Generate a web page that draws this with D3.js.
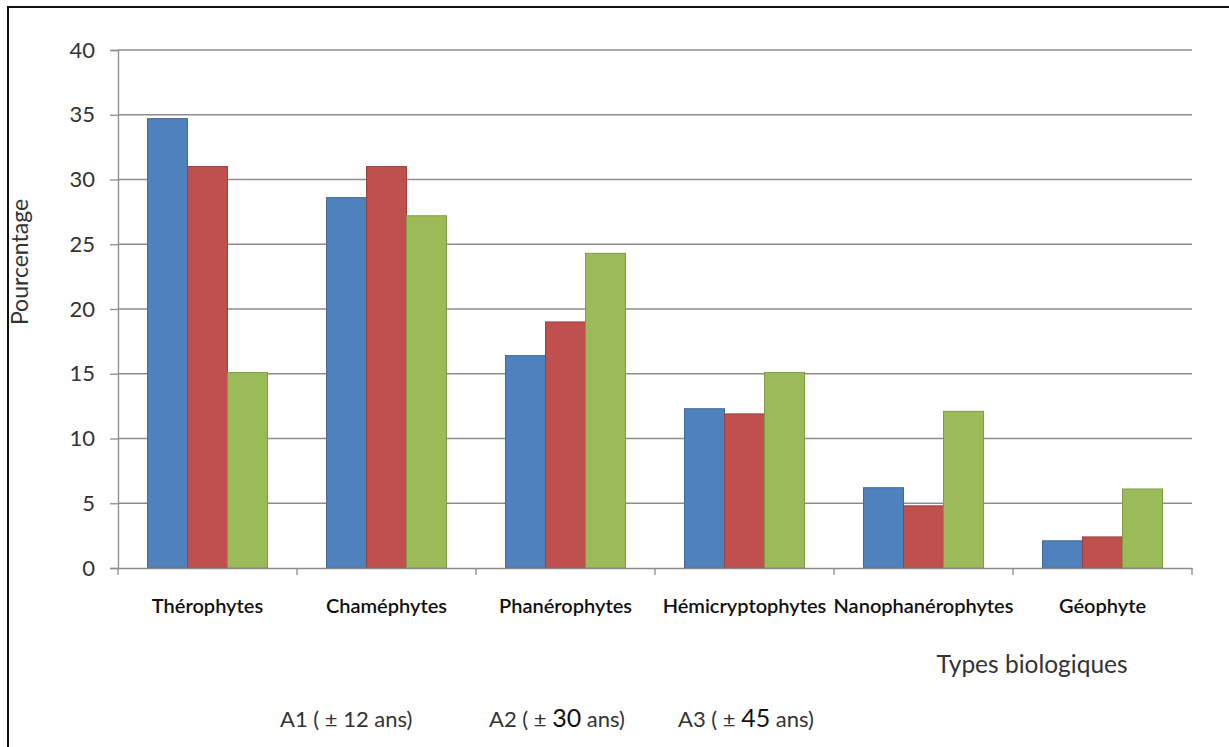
<!DOCTYPE html>
<html>
<head>
<meta charset="utf-8">
<script src="https://cdn.jsdelivr.net/npm/d3@7"></script>
<style>
  html, body { margin: 0; padding: 0; background: #fff; }
  svg { display: block; }
  text { font-family: Lato, "Open Sans", sans-serif; }
</style>
</head>
<body>
<svg id="chart" width="1229" height="747"></svg>
<script>
// Biological types (categories)
const categories = ["Thérophytes", "Chaméphytes", "Phanérophytes", "Hémicryptophytes", "Nanophanérophytes", "Géophyte"];
// Percentages for each stand age
const seriesA1 = [34.7, 28.6, 16.4, 12.3, 6.2, 2.1];
const seriesA2 = [31.0, 31.0, 19.0, 11.9, 4.8, 2.4];
const seriesA3 = [15.1, 27.2, 24.3, 15.1, 12.1, 6.1];
const seriesNames = ["A1", "A2", "A3"];
const seriesColors = ["#4F81BD", "#C0504D", "#9BBB59"];
const seriesStrokes = ["#3e6a9e", "#9c3f3c", "#7f9a48"];
const yTicks = [0, 5, 10, 15, 20, 25, 30, 35, 40];

const svg = d3.select("#chart");

// outer frame
svg.append("path")
  .attr("d", "M8,760 L8,7 L1240,7")
  .attr("fill", "none").attr("stroke", "#111").attr("stroke-width", 2);

const plot = { left: 118, right: 1192, top: 50, bottom: 568 };

const x = d3.scaleBand().domain(categories).range([plot.left, plot.right]).paddingInner(0).paddingOuter(0);
const y = d3.scaleLinear().domain([0, 40]).range([plot.bottom, plot.top]);
const groupPad = 29.5;
const xs = d3.scaleBand().domain(seriesNames)
  .range([groupPad, x.bandwidth() - groupPad]).padding(0);

// gridlines
svg.append("g").selectAll("line").data(yTicks.filter(t => t > 0)).join("line")
  .attr("x1", plot.left).attr("x2", plot.right)
  .attr("y1", d => y(d)).attr("y2", d => y(d))
  .attr("stroke", "#8c8c8c").attr("stroke-width", 1.3);

// y axis
const yAxis = d3.axisLeft(y).tickValues(yTicks).tickSize(8).tickPadding(15);
const gy = svg.append("g").attr("transform", `translate(${plot.left},0)`).call(yAxis);
gy.select(".domain").attr("stroke", "#8c8c8c").attr("stroke-width", 1.3);
gy.selectAll(".tick line").attr("stroke", "#8c8c8c").attr("stroke-width", 1.3);
gy.selectAll(".tick text").attr("fill", "#333").style("font-size", "22px")
  .style("font-family", "Lato, sans-serif");

// bars
const series = [seriesA1, seriesA2, seriesA3];
series.forEach((vals, si) => {
  svg.append("g").selectAll("rect").data(categories).join("rect")
    .attr("x", c => x(c) + xs(seriesNames[si]))
    .attr("width", xs.bandwidth())
    .attr("y", (c, i) => y(vals[i]))
    .attr("height", (c, i) => y(0) - y(vals[i]))
    .attr("fill", seriesColors[si])
    .attr("stroke", seriesStrokes[si]).attr("stroke-width", 1);
});

// x axis
const xAxis = d3.axisBottom(x).tickSize(0).tickFormat("");
const gx = svg.append("g").attr("transform", `translate(0,${plot.bottom})`).call(xAxis);
gx.select(".domain").attr("stroke", "#8c8c8c").attr("stroke-width", 1.3);
const boundaries = categories.map(c => x(c)).concat([plot.right]);
gx.selectAll(".bound").data(boundaries).join("line")
  .attr("x1", d => d).attr("x2", d => d).attr("y1", 0).attr("y2", 7)
  .attr("stroke", "#8c8c8c").attr("stroke-width", 1.3);

// category labels
svg.append("g").selectAll("text").data(categories).join("text")
  .attr("x", c => x(c) + x.bandwidth() / 2)
  .attr("y", 613)
  .attr("text-anchor", "middle")
  .attr("fill", "#111")
  .style("font-size", "20px")
  .style("font-weight", "600")
  .text(d => d);

// axis titles
svg.append("text")
  .attr("transform", "translate(28,262) rotate(-90)")
  .attr("text-anchor", "middle")
  .attr("fill", "#333").style("font-size", "23px")
  .text("Pourcentage");

svg.append("text")
  .attr("x", 1032).attr("y", 673)
  .attr("text-anchor", "middle")
  .attr("fill", "#333").style("font-size", "24.5px")
  .text("Types biologiques");

// legend (text only)
const legendItems = [
  { name: "A1", age: "12", x: 280, big: false },
  { name: "A2", age: "30", x: 489, big: true },
  { name: "A3", age: "45", x: 678, big: true }
];
const lg = svg.append("g");
legendItems.forEach(d => {
  const t = lg.append("text").attr("x", d.x).attr("y", 727)
    .attr("fill", "#333").style("font-size", "22px");
  t.append("tspan").text(`${d.name} ( ± `);
  t.append("tspan").text(d.age)
    .style("font-size", d.big ? "25px" : "22px")
    .attr("fill", d.big ? "#111" : "#333");
  t.append("tspan").text(" ans)");
});
</script>
</body>
</html>
